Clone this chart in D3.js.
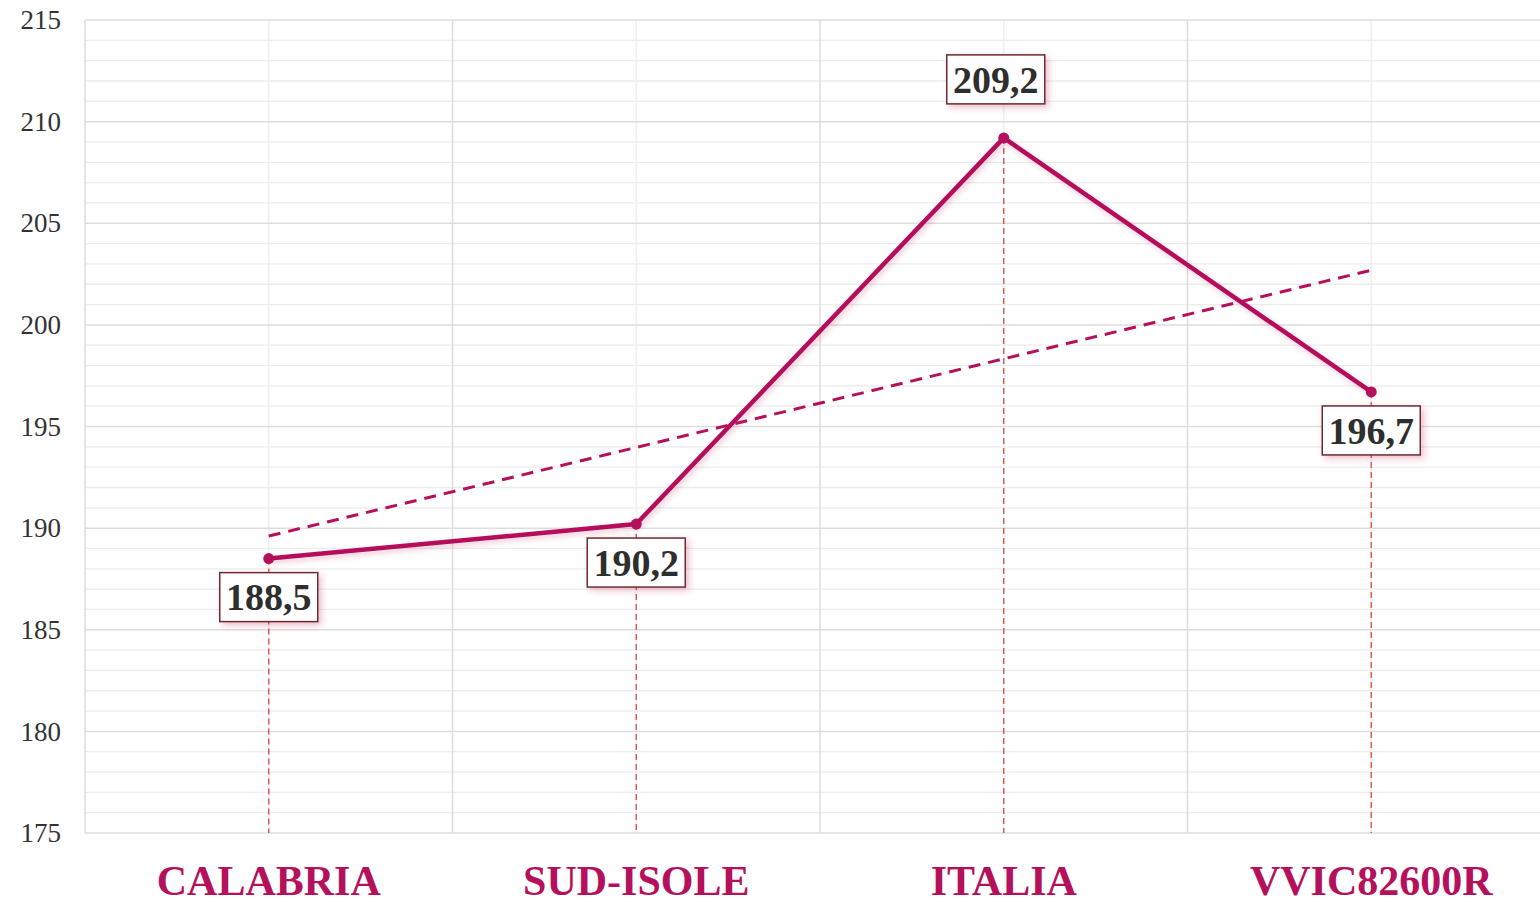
<!DOCTYPE html>
<html><head><meta charset="utf-8">
<script src="https://cdn.jsdelivr.net/npm/d3@7"></script>
<style>html,body{margin:0;padding:0;background:#fff;overflow:hidden}</style>
</head><body>
<svg id="chart" width="1540" height="903"></svg>
<script>
const categories = ["CALABRIA", "SUD-ISOLE", "ITALIA", "VVIC82600R"];
const values = [188.5, 190.2, 209.2, 196.7];
const valueLabels = ["188,5", "190,2", "209,2", "196,7"];
const labelSide = ["below", "below", "above", "below"];
const yTicks = [175, 180, 185, 190, 195, 200, 205, 210, 215];

const W = 1540, H = 903;
const m = {left: 85, top: 20, bottom: 70};
const plotRight = 85 + 4 * 367.5;
const svg = d3.select("#chart");
const accent = "#b5105c";
const serif = "'Liberation Serif','Times New Roman',serif";

const x = d3.scaleBand().domain(categories).range([m.left, plotRight]).paddingInner(0).paddingOuter(0);
const y = d3.scaleLinear().domain([175, 215]).range([833, m.top]);

const defs = svg.append("defs");
const f = defs.append("filter").attr("id", "sh").attr("x", "-30%").attr("y", "-30%").attr("width", "160%").attr("height", "160%");
f.append("feDropShadow").attr("dx", 3).attr("dy", 3).attr("stdDeviation", 3).attr("flood-color", "#c0305a").attr("flood-opacity", 0.3);
const f2 = defs.append("filter").attr("id", "lsh").attr("x", "-10%").attr("y", "-10%").attr("width", "120%").attr("height", "130%");
f2.append("feDropShadow").attr("dx", 2).attr("dy", 3).attr("stdDeviation", 2.5).attr("flood-color", "#c0305a").attr("flood-opacity", 0.25);

// minor grid
const minor = d3.range(175, 215.01, 1).filter(v => v % 5 !== 0);
svg.append("g").selectAll("line").data(minor).join("line")
  .attr("x1", m.left).attr("x2", W).attr("y1", d => y(d)).attr("y2", d => y(d))
  .attr("stroke", "#ececec").attr("stroke-width", 1.3);
// vertical light center lines
svg.append("g").selectAll("line").data(categories).join("line")
  .attr("x1", d => x(d) + x.bandwidth()/2).attr("x2", d => x(d) + x.bandwidth()/2)
  .attr("y1", y(215)).attr("y2", y(175)).attr("stroke", "#eeeeee").attr("stroke-width", 1.3);
// major grid
svg.append("g").selectAll("line").data(yTicks).join("line")
  .attr("x1", m.left).attr("x2", W).attr("y1", d => y(d)).attr("y2", d => y(d))
  .attr("stroke", "#dddddd").attr("stroke-width", 1.5);
// band boundaries
const bounds = categories.map(c => x(c));
svg.append("g").selectAll("line").data(bounds).join("line")
  .attr("x1", d => d).attr("x2", d => d).attr("y1", y(215)).attr("y2", y(175))
  .attr("stroke", "#dddddd").attr("stroke-width", 1.5);

// y axis labels
const yAxis = d3.axisLeft(y).tickValues(yTicks).tickSize(0).tickPadding(24);
const gy = svg.append("g").attr("transform", `translate(${m.left},0)`).call(yAxis);
gy.select(".domain").remove();
gy.selectAll("text").attr("font-family", serif)
  .attr("font-size", 27).attr("fill", "#333");

// x axis labels
const xAxis = d3.axisBottom(x).tickSize(0).tickPadding(0);
const gx = svg.append("g").attr("transform", `translate(0,${y(175)})`).call(xAxis);
gx.select(".domain").remove();
gx.selectAll("text").attr("font-family", serif).attr("y", 62).attr("dy", 0)
  .attr("font-size", 42).attr("font-weight", "bold").attr("fill", accent);

const cx = d => x(d) + x.bandwidth()/2;

// drop lines
svg.append("g").selectAll("line").data(categories).join("line")
  .attr("x1", cx).attr("x2", cx).attr("y1", (d,i) => y(values[i])).attr("y2", y(175))
  .attr("stroke", "#d9534f").attr("stroke-width", 1.4).attr("stroke-dasharray", "6,4");

// trend line (least squares)
const n = values.length, xs = d3.range(1, n + 1);
const mx = d3.mean(xs), my = d3.mean(values);
const slope = d3.sum(xs.map((v,i) => (v-mx)*(values[i]-my))) / d3.sum(xs.map(v => (v-mx)**2));
const icpt = my - slope * mx;
svg.append("line")
  .attr("x1", cx(categories[0])).attr("x2", cx(categories[n-1]))
  .attr("y1", y(icpt + slope*1)).attr("y2", y(icpt + slope*n))
  .attr("stroke", accent).attr("stroke-width", 3).attr("stroke-dasharray", "12,8");

// main line
const line = d3.line().x((d,i) => cx(categories[i])).y(d => y(d));
svg.append("path").datum(values).attr("d", line).attr("fill", "none")
  .attr("stroke", accent).attr("stroke-width", 4.5).attr("stroke-linejoin", "round").attr("filter", "url(#lsh)");
svg.append("g").selectAll("circle").data(values).join("circle")
  .attr("cx", (d,i) => cx(categories[i])).attr("cy", d => y(d)).attr("r", 5.5).attr("fill", accent);

// data labels
const bw = 98, bh = 49;
const lg = svg.append("g").selectAll("g").data(values).join("g")
  .attr("transform", (d,i) => {
    const above = labelSide[i] === "above";
    const yy = above ? y(d) - 34 - bh/2 : y(d) + 14 + bh/2;
    const xx = cx(categories[i]) + (above ? -8 : 0);
    return `translate(${xx},${yy})`;
  });
lg.append("rect").attr("x", -bw/2).attr("y", -bh/2).attr("width", bw).attr("height", bh)
  .attr("fill", "#fff").attr("stroke", "#6e2a2e").attr("stroke-width", 1.5).attr("filter", "url(#sh)");
lg.append("text").attr("text-anchor", "middle").attr("dy", "0.35em")
  .attr("font-family", serif).attr("font-size", 38)
  .attr("font-weight", "bold").attr("fill", "#2e2e2e").text((d,i) => valueLabels[i]);
</script>
</body></html>
